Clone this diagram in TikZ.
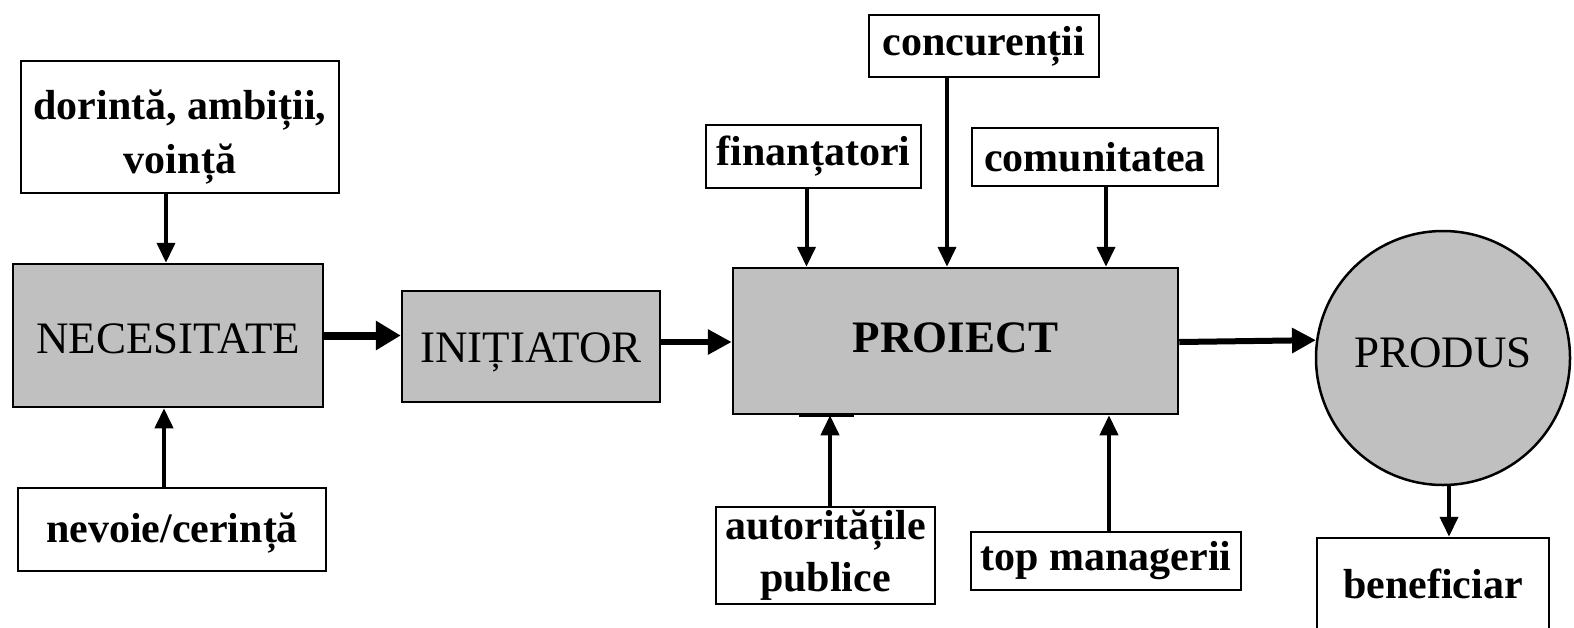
\documentclass[tikz,border=0pt]{standalone}
\usepackage{fontspec}
\setmainfont{Liberation Serif}
\usetikzlibrary{arrows.meta}
\definecolor{boxgray}{HTML}{C0C0C0}
\begin{document}
\begin{tikzpicture}[x=1pt,y=-1pt,
  lbl/.style={draw=black,line width=2.5pt,fill=white,inner sep=0pt,
    font=\fontsize{42}{54}\selectfont\bfseries,align=center},
  mainbox/.style={draw=black,line width=2.5pt,fill=boxgray,inner sep=0pt,
    font=\fontsize{45}{52}\selectfont},
  arr/.style={line width=4pt,-{Triangle[length=20pt,width=18pt]}},
  thickarr/.style={line width=8pt,-{Triangle[length=25pt,width=28pt]}},
  midarr/.style={line width=6pt,-{Triangle[length=24pt,width=24pt]}},
]
\clip (0,0) rectangle (1574,627);
\fill[white] (0,0) rectangle (1574,627);
% nodes
\node[lbl,minimum width=318pt,minimum height=132pt,text height=92pt,text depth=0pt] (dor) at (180,127) {dorintă, ambiții,\\voință};
\node[mainbox,minimum width=310pt,minimum height=143pt,text height=36.5pt,text depth=0pt] (nec) at (168,335.5) {NECESITATE};
\node[lbl,minimum width=308pt,minimum height=83pt,text height=25pt,text depth=0pt] (nev) at (172,529.5) {nevoie/cerință};
\node[mainbox,minimum width=258pt,minimum height=111pt,text height=32.4pt,text depth=0pt] (ini) at (531,346.5) {INIȚIATOR};
\node[mainbox,minimum width=445pt,minimum height=146pt,text height=23.4pt,text depth=0pt,font=\fontsize{45}{52}\selectfont\bfseries] (pro) at (955.5,341) {PROIECT};
\node[mainbox,circle,minimum size=254pt,text height=19.4pt,text depth=0pt] (prd) at (1443,358) {PRODUS};
\node[lbl,minimum width=232pt,minimum height=92pt] (ben) at (1433,584) {beneficiar};
\node[lbl,minimum width=230pt,minimum height=62pt] (conc) at (984,46) {concurenții};
\node[lbl,minimum width=215pt,minimum height=63pt] (fin) at (813.5,156.5) {finanțatori};
\node[lbl,minimum width=246pt,minimum height=58pt] (com) at (1095,157) {comunitatea};
\node[lbl,minimum width=219pt,minimum height=97pt,font=\fontsize{42}{52}\selectfont\bfseries] (aut) at (825.5,555.5) {autoritățile\\publice};
\node[lbl,minimum width=270pt,minimum height=58pt] (top) at (1106,561) {top managerii};
% thickened part of the project box's lower edge
\draw[line width=4pt] ([xshift=67pt]pro.south west) -- ([xshift=122pt]pro.south west);
% connectors
\draw[arr] ([xshift=-14pt]dor.south) -- ([xshift=-14pt]dor.south |- nec.north);
\draw[arr] ([xshift=-8pt]nev.north) -- ([xshift=-8pt]nev.north |- nec.south);
\draw[thickarr] (nec.east) -- (nec.east -| ini.west);
\draw[midarr] ([yshift=-1pt]pro.west -| ini.east) -- ([yshift=-1pt]pro.west);
\draw[midarr] ([yshift=-1pt]pro.east) -- (prd.172);
\draw[arr] ([xshift=-7pt]fin.south) -- ([xshift=-7pt]fin.south |- pro.north);
\draw[arr] ([xshift=-37pt]conc.south) -- ([xshift=-37pt]conc.south |- pro.north);
\draw[arr] ([xshift=11pt]com.south) -- ([xshift=11pt]com.south |- pro.north);
\draw[arr] ([xshift=4.5pt]aut.north) -- ([xshift=4.5pt]aut.north |- pro.south);
\draw[arr] ([xshift=3pt]top.north) -- ([xshift=3pt]top.north |- pro.south);
\draw[arr] ([xshift=6pt]prd.south) -- ([xshift=6pt]prd.south |- ben.north);
\end{tikzpicture}
\end{document}
